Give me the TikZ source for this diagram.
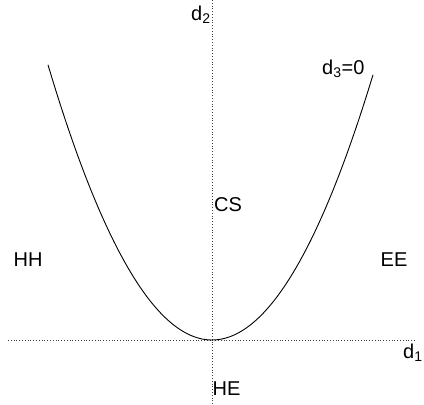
\documentclass[tikz,border=0pt]{standalone}
\usepackage{fontspec}
\setmainfont{Liberation Sans}
\usetikzlibrary{positioning}
\tikzset{
  axisline/.style={dotted,line width=0.8pt,draw=black!75},
  curveline/.style={line width=0.9pt,draw=black},
  region/.style={inner sep=0pt,anchor=base west,font=\fontsize{20}{22}\selectfont}
}

\begin{document}
\begin{tikzpicture}[x=1pt,y=-1pt]
  \useasboundingbox (0,0) rectangle (424,405);
  % axes
  \coordinate (origin) at (212,340);
  \coordinate (xleft) at (8,340);
  \coordinate (xright) at (415,340);
  \coordinate (ytop) at (212,0);
  \coordinate (ybottom) at (212,405);
  \draw[axisline] (xleft) -- (xright);
  \draw[axisline] (ytop) -- (ybottom);
  % d3=0 curve
  \draw[curveline,shift={(origin)}] plot[domain=-164:161,samples=90,smooth]
    (\x,{-1.023*(\x/10)*(\x/10)});
  % labels
  \node[region] (dtwo) at (191,20) {d\textsubscript{2}};
  \node[region] (dthree) at (322,74) {d\textsubscript{3}=0};
  \node[region] (cs) at (214,211) {CS};
  \node[region] (hh) at (13.5,266) {HH};
  \node[region] (ee) at (380.5,266) {EE};
  \node[region] (done) at (403,358) {d\textsubscript{1}};
  \node[region] (he) at (212.5,395) {HE};
\end{tikzpicture}
\end{document}
